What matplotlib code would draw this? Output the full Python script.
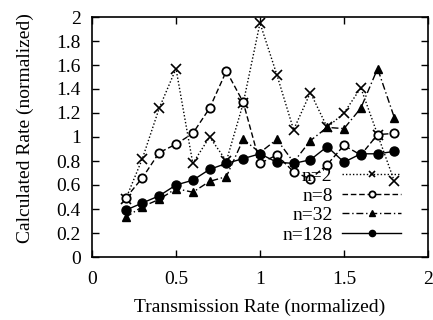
import matplotlib
matplotlib.use("Agg")
import matplotlib.pyplot as plt
from matplotlib.ticker import MultipleLocator, FuncFormatter

plt.rcParams['font.family'] = ['Liberation Serif', 'DejaVu Serif']

x = [0.2, 0.3, 0.4, 0.5, 0.6, 0.7, 0.8, 0.9, 1.0, 1.1, 1.2, 1.3, 1.4, 1.5, 1.6, 1.7, 1.8]
n2 = [0.48, 0.82, 1.24, 1.57, 0.78, 1.0, 0.8, 1.28, 1.95, 1.52, 1.06, 1.37, 1.08, 1.2, 1.41, 1.02, 0.63]
n8 = [0.49, 0.66, 0.87, 0.94, 1.03, 1.24, 1.55, 1.29, 0.78, 0.85, 0.71, 0.65, 0.77, 0.93, 0.85, 1.02, 1.03]
n32 = [0.33, 0.42, 0.48, 0.57, 0.54, 0.63, 0.67, 0.98, 0.87, 0.98, 0.79, 0.97, 1.08, 1.07, 1.24, 1.57, 1.16]
n128 = [0.39, 0.45, 0.51, 0.60, 0.64, 0.73, 0.78, 0.82, 0.86, 0.79, 0.78, 0.81, 0.92, 0.79, 0.86, 0.86, 0.88]
labels = ['n=2', 'n=8', 'n=32', 'n=128']

fig = plt.figure(figsize=(4.33, 3.2), dpi=100)
ax = fig.add_axes([92/433, 1-257/320, 336/433, 240/320])

k = 'black'
ax.plot(x, n2, ls=(0, (1, 1.5)), marker='x', color=k, lw=1, ms=6.5, mew=1.2, label=labels[0])
ax.plot(x, n8, ls=(0, (4, 2)), marker='o', mfc='white', color=k, lw=1, ms=6, mew=1.3, label=labels[1])
ax.plot(x, n32, ls=(0, (5, 2, 1, 2)), marker='^', color=k, lw=1, ms=6, label=labels[2])
ax.plot(x, n128, ls='-', marker='o', color=k, lw=1, ms=6.5, label=labels[3])

ax.set_xlim(0, 2)
ax.set_ylim(0, 2)
ax.xaxis.set_major_locator(MultipleLocator(0.5))
ax.yaxis.set_major_locator(MultipleLocator(0.2))
ax.xaxis.set_major_formatter(FuncFormatter(lambda v, p: f"{v:g}"))
ax.yaxis.set_major_formatter(FuncFormatter(lambda v, p: f"{v:g}"))
ax.tick_params(direction='in', top=True, right=True, length=5, width=1, labelsize=14)
ax.tick_params(axis='x', pad=10)
ax.tick_params(axis='y', pad=8)
for s in ax.spines.values():
    s.set_linewidth(1.2)

ax.set_xlabel('Transmission Rate (normalized)', fontsize=14)
ax.set_ylabel('Calculated Rate (normalized)', fontsize=14)
ax.xaxis.set_label_coords(0.5, (257 - 299) / 240)
ax.yaxis.set_label_coords((34 - 92) / 336, (257 - 128) / 240)

leg = ax.legend(loc='lower right', bbox_to_anchor=(0.965, -0.01), frameon=False,
                markerfirst=False, numpoints=1, handlelength=3.0, fontsize=14,
                labelspacing=0.1, handletextpad=0.5, borderpad=0.3)
for t in leg.get_texts():
    t.set_ha('right')
for h in leg.legend_handles:
    h.set_markersize(4.5)

fig.savefig('out.png', dpi=100)
